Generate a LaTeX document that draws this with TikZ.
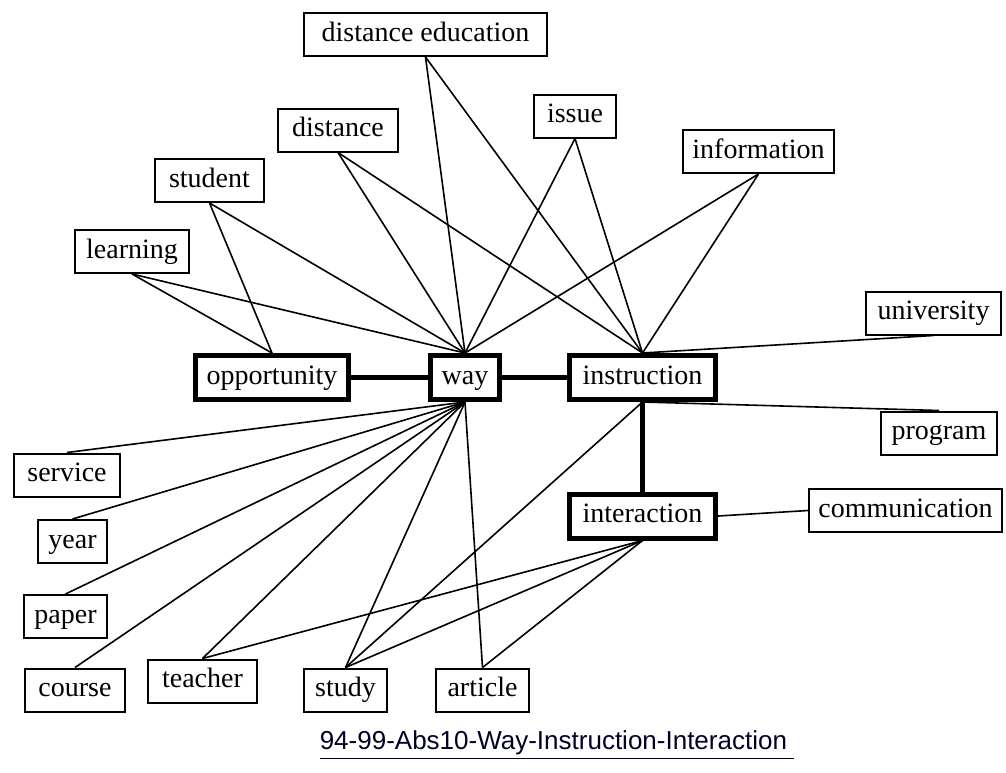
\documentclass[tikz,border=0pt]{standalone}
\usepackage{fontspec}
\setmainfont{Liberation Serif}
\newfontfamily\capfont{Liberation Sans}
\usepackage{tikz}

\begin{document}
\begin{tikzpicture}[x=0.5pt,y=-0.5pt,
        term/.style={draw, line width=1pt, inner sep=2pt, minimum height=21.5pt, text height=9.5pt, text depth=3pt, font=\fontsize{14}{16}\selectfont},
        core/.style={draw, line width=2.5pt, inner sep=2pt, minimum height=22pt, text height=9.5pt, text depth=3pt, font=\fontsize{14}{16}\selectfont},
        link/.style={line width=0.8pt},
        tie/.style={line width=2.5pt}]
        \useasboundingbox (0,0) rectangle (1006,772);
        % keywords above
        \node[term, minimum width=121.5pt] (diste) at (425.5,34.5) {distance education};
        \node[term, minimum width=60pt] (dist) at (338,130) {distance};
        \node[term, minimum width=54.5pt] (stud) at (209.5,180.5) {student};
        \node[term, minimum width=57pt] (learn) at (132,251.5) {learning};
        \node[term, minimum width=41pt] (issue) at (575,116) {issue};
        \node[term, minimum width=75.5pt] (info) at (758.5,151.5) {information};
        \node[term, minimum width=67.5pt] (univ) at (933.5,313) {university};
        % main chain
        \node[core, minimum width=76.5pt] (opp) at (272,377.5) {opportunity};
        \node[core, minimum width=34.5pt] (way) at (465,377.5) {way};
        \node[core, minimum width=73pt] (instr) at (642.5,377.5) {instruction};
        \node[core, minimum width=73pt] (inter) at (642.5,516) {interaction};
        \node[term, minimum width=58pt] (prog) at (939,433) {program};
        \node[term, minimum width=96.5pt] (comm) at (905.5,510.5) {communication};
        % keywords below
        \node[term, minimum width=53pt] (serv) at (67,475) {service};
        \node[term, minimum width=34.5pt] (year) at (72.5,541.5) {year};
        \node[term, minimum width=41.5pt] (paper) at (65.5,616.5) {paper};
        \node[term, minimum width=50pt] (course) at (75,690) {course};
        \node[term, minimum width=54.5pt] (teach) at (202.5,681) {teacher};
        \node[term, minimum width=41.5pt] (study) at (345.5,690) {study};
        \node[term, minimum width=46.5pt] (art) at (482.5,690) {article};
        \node[font=\capfont\fontsize{13}{15}\selectfont, text=black!85!blue] (cap) at (557,745)
            {\underline{94-99-Abs10-Way-Instruction-Interaction\ }};

        \draw[tie] (opp) -- (way);
        \draw[tie] (way) -- (instr);
        \draw[tie] (instr) -- (inter);

        \draw[link] (opp.north) -- (learn.south);
        \draw[link] (opp.north) -- (stud.south);
        \draw[link] (way.north) -- (learn.south);
        \draw[link] (way.north) -- (stud.south);
        \draw[link] (way.north) -- (dist.south);
        \draw[link] (way.north) -- (diste.south);
        \draw[link] (way.north) -- (issue.south);
        \draw[link] (way.north) -- (info.south);
        \draw[link] (instr.north) -- (dist.south);
        \draw[link] (instr.north) -- (diste.south);
        \draw[link] (instr.north) -- (issue.south);
        \draw[link] (instr.north) -- (info.south);
        \draw[link] (instr.north) -- (univ.south);
        \draw[link] (instr.south) -- (prog.north);
        \draw[link] (instr.south) -- (study.north);
        \draw[link] (inter.east) -- (comm.west);
        \draw[link] (way.south) -- (serv.north);
        \draw[link] (way.south) -- (year.north);
        \draw[link] (way.south) -- (paper.north);
        \draw[link] (way.south) -- (course.north);
        \draw[link] (way.south) -- (teach.north);
        \draw[link] (way.south) -- (study.north);
        \draw[link] (way.south) -- (art.north);
        \draw[link] (inter.south) -- (teach.north);
        \draw[link] (inter.south) -- (study.north);
        \draw[link] (inter.south) -- (art.north);
    \end{tikzpicture}
\end{document}
